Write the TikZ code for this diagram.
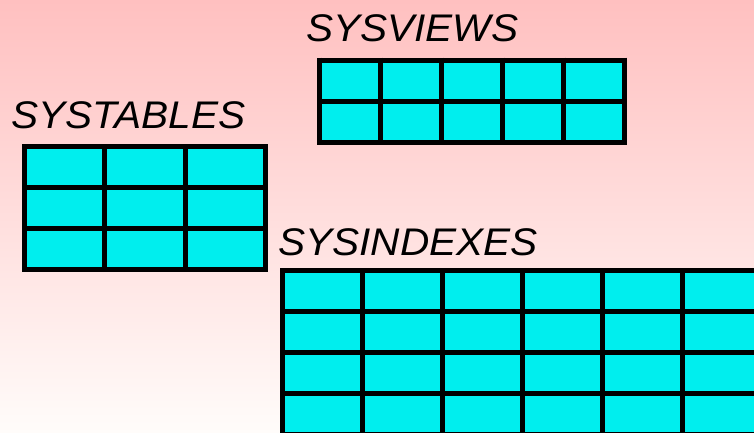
\documentclass[tikz,border=0pt]{standalone}
\usepackage{fontspec}
\setmainfont{Liberation Sans}
\definecolor{bgtop}{RGB}{255,192,192}
\definecolor{bgmid}{RGB}{255,228,228}
\definecolor{bgbottom}{RGB}{255,252,250}
\definecolor{cellcyan}{RGB}{0,238,238}
\newcommand\dbgrid[6]{% x0 y0 dx dy cols rows
  \begin{scope}[shift={(#1,#2)}]
    \fill[cellfill] (0,0) rectangle (#5*#3, #6*#4);
    \foreach \i in {0,...,#5} \draw[gridline] (\i*#3, -2.5) -- (\i*#3, #6*#4+2.5);
    \foreach \j in {0,...,#6} \draw[gridline] (-2.5, \j*#4) -- (#5*#3+2.5, \j*#4);
  \end{scope}}
\begin{document}
\begin{tikzpicture}[x=1pt,y=-1pt,
  tablename/.style={font=\fontsize{38.5}{40}\selectfont\itshape, inner sep=0pt, anchor=base west, text=black, xscale=1.055, transform shape},
  cellfill/.style={fill=cellcyan},
  gridline/.style={line width=5pt, draw=black},
]
\useasboundingbox (0,0) rectangle (754,433);
\clip (0,0) rectangle (754,433);
\shade[top color=bgtop, middle color=bgmid, bottom color=bgbottom] (0,0) rectangle (754,433);

\dbgrid{319.8}{60.2}{60.9}{41.2}{5}{2}
\dbgrid{24.5}{146.5}{80.3}{40.9}{3}{3}
\dbgrid{282.5}{270.8}{80}{40.8}{6}{4}

\node[tablename] (sysviews) at (306,41.7) {SYSVIEWS};
\node[tablename] (systables) at (11,128.3) {SYSTABLES};
\node[tablename] (sysindexes) at (278,255) {SYSINDEXES};
\end{tikzpicture}
\end{document}
